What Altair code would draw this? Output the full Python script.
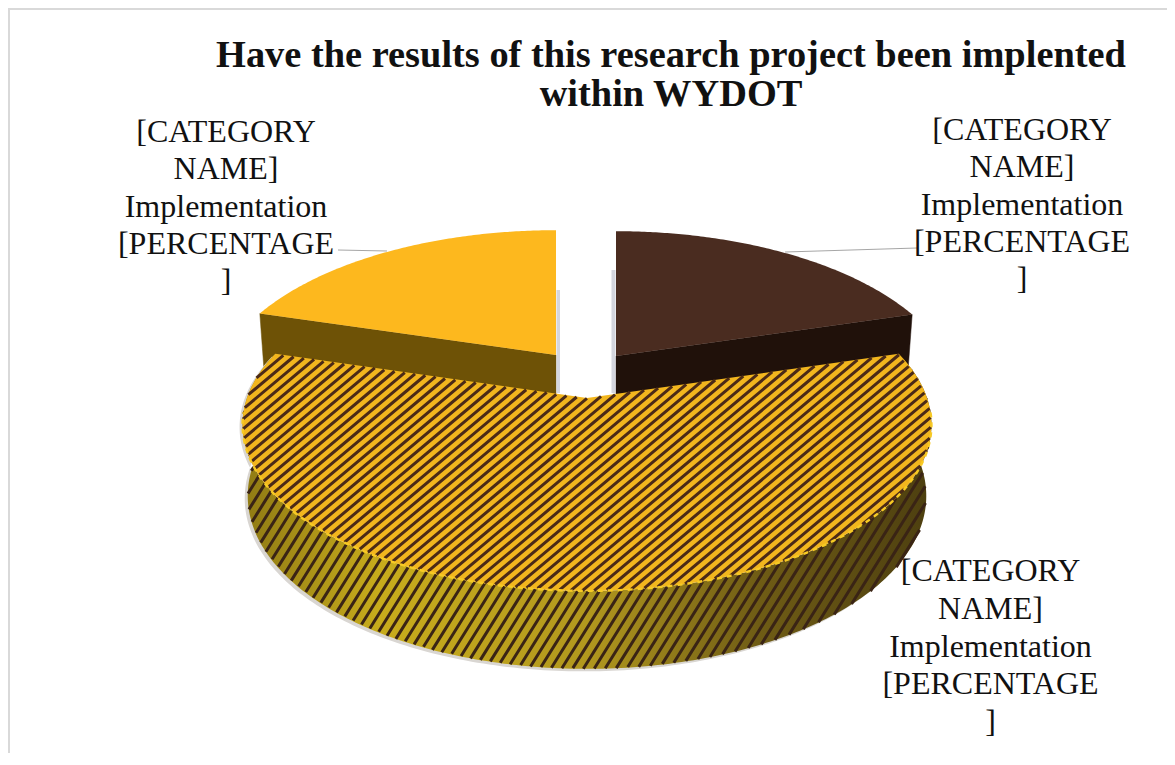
import numpy as np
import altair as alt

# ---- values
categories = ["Partial", "Full", "None"]
shares = [20.4, 59.2, 20.4]
top_colors = ["#4A2C20", "#F2B61E", "#FDB81E"]
side_colors = ["#20110A", "#8A7414", "#6E5206"]
title_lines = ["Have the results of this research project been implented", "within WYDOT"]
label_lines = ["[CATEGORY", "NAME]", "Implementation", "[PERCENTAGE", "]"]

W, H = 1159, 745
OFF = 8
FONT = "Liberation Serif"

# pie geometry: centre, half axes, perspective, thickness and its change front/back
geom = [
    dict(cx=616, cy=356, A=331, B=156, k=0.25, d=60, dv=0),
    dict(cx=587, cy=398, A=340, B=162, k=0.16, d=70, dv=8),
    dict(cx=556, cy=355, A=331, B=156, k=0.25, d=60, dv=0),
]

spans = []
a0 = -90.0
for s in shares:
    spans.append((a0, a0 + s * 3.6))
    a0 += s * 3.6


def pt(g, deg, down=False):
    t = np.radians(deg)
    u, v = np.cos(t), np.sin(t)
    w = 1 - g["k"] * v
    x = g["cx"] + g["A"] * u / w
    y = g["cy"] + g["B"] * v / w
    if down:
        y += g["d"] + g["dv"] * v
        x = g["cx"] + (x - g["cx"]) * 0.985
    return [float(x - OFF), float(y - OFF)]


def arc(g, a, b, down=False, n=120):
    return [pt(g, d, down) for d in np.linspace(a, b, n)]


def poly_feature(ring):
    ring = list(ring) + [ring[0]]
    return {"type": "Feature", "properties": {}, "geometry": {"type": "Polygon", "coordinates": [ring]}}


def lines_feature(lines):
    return {"type": "Feature", "properties": {}, "geometry": {"type": "MultiLineString", "coordinates": lines}}


def inside(ring, x, y):
    r = np.array(ring)
    x0, y0, x1, y1 = r[:, 0], r[:, 1], np.roll(r[:, 0], -1), np.roll(r[:, 1], -1)
    with np.errstate(divide="ignore", invalid="ignore"):
        hit = ((y0 > y) != (y1 > y)) & (x < (x1 - x0) * (y - y0) / (y1 - y0) + x0)
    return int(hit.sum()) % 2 == 1


def stripes(ring, angle_deg, period):
    r = np.array(ring)
    cx, cy = r.mean(axis=0)
    t = np.radians(angle_deg)
    d = np.array([np.cos(t), -np.sin(t)])
    p = np.array([np.sin(t), np.cos(t)])
    out = []
    for off in np.arange(-620, 620, period):
        run = []
        for s in np.arange(-620, 620, 1.0):
            q = np.array([cx, cy]) + d * s + p * off
            if inside(ring, q[0], q[1]):
                run.append([float(q[0]), float(q[1])])
            else:
                if len(run) > 1:
                    out.append([run[0], run[-1]])
                run = []
        if len(run) > 1:
            out.append([run[0], run[-1]])
    return out


def shape(feature, **mark):
    return (
        alt.Chart(alt.Data(values=[feature]))
        .mark_geoshape(**mark)
        .encode()
        .project(type="identity", scale=1, translate=[0, 0])
    )


layers = []

# chart border (left and top, the sides the reference shows)
layers.append(shape(lines_feature([[[1, H], [1, 1], [W, 1]]]), filled=False, stroke="#D9D9D9", strokeWidth=2))

# small slices: side then top
for i in (0, 2):
    g = geom[i]
    a, b = spans[i]
    apex = [g["cx"] - OFF, g["cy"] - OFF]
    apex_low = [apex[0], apex[1] + g["d"]]
    end = b if i == 0 else a
    side = [apex, pt(g, end), pt(g, end, True), apex_low]
    layers.append(shape(poly_feature(side), fill=side_colors[i], stroke=side_colors[i], strokeWidth=0.5))
    layers.append(shape(poly_feature([apex] + arc(g, a, b)), fill=top_colors[i]))

# soft shadows beside the gap
layers.append(shape(poly_feature([[548.5, 282], [552, 282], [552, 385], [548.5, 385]]), fill="#C9CCD6", opacity=0.8))
layers.append(shape(poly_feature([[603.5, 262], [607.5, 262], [607.5, 385], [603.5, 385]]), fill="#C9CCD6", opacity=0.8))

# big slice
g = geom[1]
a, b = spans[1]
top_arc = arc(g, a, b, n=240)
low_arc = arc(g, a, b, True, n=240)
side_ring = top_arc + low_arc[::-1]
shadow = [[p[0] - 3, p[1] + 2.5] for p in side_ring]
layers.append(shape(poly_feature(shadow), fill="#D9D6D2"))
side_fill = alt.Gradient(
    gradient="linear", x1=0, x2=1, y1=0, y2=0,
    stops=[
        alt.GradientStop(offset=0, color="#8F7A14"),
        alt.GradientStop(offset=0.2, color="#C8AC1C"),
        alt.GradientStop(offset=0.5, color="#B2981E"),
        alt.GradientStop(offset=0.75, color="#6F5C15"),
        alt.GradientStop(offset=1, color="#4D3F10"),
    ],
)
layers.append(shape(poly_feature(side_ring), fill=side_fill))
layers.append(shape(lines_feature(stripes(side_ring, 58, 9.2)), filled=False, stroke="#3A2415", strokeWidth=3))

apex = [g["cx"] - OFF, g["cy"] - OFF]
top_ring = [apex] + top_arc
layers.append(shape(poly_feature(top_ring), fill=top_colors[1]))
layers.append(shape(lines_feature(stripes(top_ring, 40, 7.6)), filled=False, stroke="#4B2A17", strokeWidth=3))
layers.append(shape(lines_feature([arc(g, 5, 175, n=240)]), filled=False, stroke="#F7CA24", strokeWidth=2.4, strokeDash=[5, 5]))

# leader lines
layers.append(shape(lines_feature([[[338 - OFF, 250 - OFF], [387 - OFF, 251 - OFF]]]), filled=False, stroke="#A6A6A6", strokeWidth=1.2))
layers.append(shape(lines_feature([[[785 - OFF, 252 - OFF], [917 - OFF, 248 - OFF]]]), filled=False, stroke="#A6A6A6", strokeWidth=1.2))


def multi_text(lines, cx, cy, size, lh, **kw):
    return (
        alt.Chart(alt.Data(values=[{"t": lines}]))
        .mark_text(fontSize=size, font=FONT, lineHeight=lh, align="center", baseline="top", color="#111111", **kw)
        .encode(text="t:N", x=alt.value(cx - OFF), y=alt.value(cy - OFF))
    )


layers.append(multi_text(label_lines, 226, 117, 32, 37.3))
layers.append(multi_text(label_lines, 1022, 115, 32, 37.3))
layers.append(multi_text(label_lines, 990.5, 556, 32, 37.8))
layers.append(multi_text(title_lines, 671, 37, 38.4, 38.5, fontWeight="bold"))

chart = (
    alt.layer(*layers)
    .properties(width=W, height=H, padding=0, autosize=alt.AutoSizeParams(type="none"))
    .configure_view(stroke=None)
)
chart.save("out.html", embed_options={"renderer": "svg", "actions": False})
